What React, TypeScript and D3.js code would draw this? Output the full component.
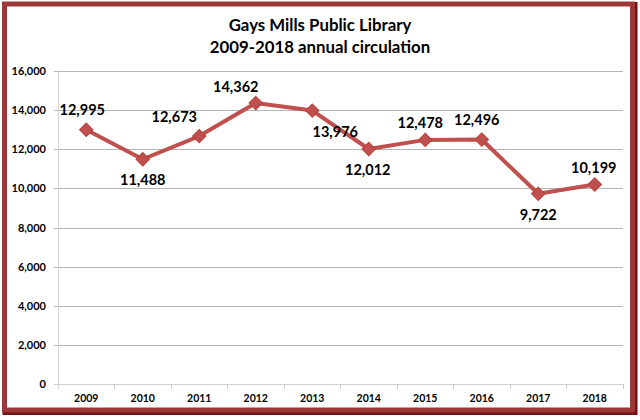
import React, { useRef, useEffect } from 'react';
import * as d3 from 'd3';

// annual circulation
const years = ['2009', '2010', '2011', '2012', '2013', '2014', '2015', '2016', '2017', '2018'];
const circulation = [12995, 11488, 12673, 14362, 13976, 12012, 12478, 12496, 9722, 10199];
const yTicks = [0, 2000, 4000, 6000, 8000, 10000, 12000, 14000, 16000];
const titleLines = ['Gays Mills Public Library', '2009-2018 annual circulation'];

// where each data label sits relative to its marker (dx, dy of the text centre)
const labelOffsets: [number, number][] = [
  [-4, -20], [0, 21], [-25, -19], [-20, -16], [23, 21],
  [-1, 21], [-5, -17], [-5, -20], [0, 21], [-1, -17],
];

const W = 640;
const H = 420;
const RED = '#c0504d';
const FONT = 'Lato, "Open Sans", sans-serif';

const App: React.FC = () => {
  const ref = useRef<SVGSVGElement | null>(null);

  useEffect(() => {
    if (!ref.current) return;
    const svg = d3.select(ref.current);
    svg.selectAll('*').remove();

    const margin = { top: 71, right: 17, bottom: 36, left: 58 };
    const x = d3
      .scaleBand<string>()
      .domain(years)
      .range([margin.left, W - margin.right]);
    const y = d3
      .scaleLinear()
      .domain([0, 16000])
      .range([H - margin.bottom, margin.top]);

    // page + frame
    svg.append('rect').attr('width', W).attr('height', H).attr('fill', '#ffffff');
    svg
      .append('rect')
      .attr('x', 5.5)
      .attr('y', 5)
      .attr('width', 629)
      .attr('height', 407)
      .attr('fill', 'none')
      .attr('stroke', '#6e1414')
      .attr('stroke-width', 6);
    svg
      .append('rect')
      .attr('x', 4.5)
      .attr('y', 4)
      .attr('width', 628)
      .attr('height', 406)
      .attr('fill', '#ffffff')
      .attr('stroke', '#9d3838')
      .attr('stroke-width', 5);

    // title
    svg
      .append('text')
      .attr('x', 320)
      .attr('text-anchor', 'middle')
      .attr('font-family', FONT)
      .attr('font-weight', 'bold')
      .attr('font-size', 16.8)
      .attr('fill', '#000')
      .selectAll('tspan')
      .data(titleLines)
      .join('tspan')
      .attr('x', 320)
      .attr('y', (_, i) => 31 + i * 22)
      .text((d) => d);

    // y axis with gridlines
    const yAxis = svg
      .append('g')
      .attr('transform', `translate(${margin.left},0)`)
      .call(
        d3
          .axisLeft(y)
          .tickValues(yTicks)
          .tickSize(0)
          .tickPadding(12)
          .tickFormat((d) => d3.format(',')(d as number))
      );
    yAxis.select('.domain').remove();
    yAxis
      .selectAll('.tick text')
      .attr('font-family', FONT)
      .attr('font-size', 11)
      .attr('font-weight', 'bold')
      .attr('fill', '#000');
    yAxis
      .selectAll('.tick')
      .append('line')
      .attr('x1', -4)
      .attr('x2', W - margin.left - margin.right)
      .attr('stroke', (d) => ((d as number) === 0 ? '#d0d0d0' : '#b5b5b5'))
      .attr('stroke-width', 1)
      .attr('shape-rendering', 'crispEdges');
    svg
      .append('line')
      .attr('x1', margin.left)
      .attr('x2', margin.left)
      .attr('y1', margin.top)
      .attr('y2', H - margin.bottom + 5)
      .attr('stroke', '#d6d6d6')
      .attr('shape-rendering', 'crispEdges');

    // x axis
    const xAxis = svg
      .append('g')
      .attr('transform', `translate(0,${H - margin.bottom})`)
      .call(d3.axisBottom(x).tickSize(0).tickPadding(11));
    xAxis.select('.domain').remove();
    xAxis
      .selectAll('.tick text')
      .attr('font-family', FONT)
      .attr('font-size', 10.5)
      .attr('font-weight', 'bold')
      .attr('fill', '#000');
    xAxis
      .selectAll('line.sep')
      .data(years)
      .join('line')
      .attr('class', 'sep')
      .attr('x1', (d) => (x(d) as number) + x.bandwidth())
      .attr('x2', (d) => (x(d) as number) + x.bandwidth())
      .attr('y1', 0)
      .attr('y2', 5)
      .attr('stroke', '#c8c8c8')
      .attr('shape-rendering', 'crispEdges');

    const cx = (i: number) => (x(years[i]) as number) + x.bandwidth() / 2;

    // line
    const line = d3
      .line<number>()
      .x((_, i) => cx(i))
      .y((d) => y(d));
    svg
      .append('path')
      .datum(circulation)
      .attr('fill', 'none')
      .attr('stroke', RED)
      .attr('stroke-width', 4)
      .attr('stroke-linejoin', 'round')
      .attr('d', line);

    // diamond markers
    svg
      .append('g')
      .selectAll('path')
      .data(circulation)
      .join('path')
      .attr('d', d3.symbol(d3.symbolSquare, 90)())
      .attr('transform', (d, i) => `translate(${cx(i)},${y(d)}) rotate(45)`)
      .attr('fill', RED)
      .attr('stroke', '#b8413e')
      .attr('stroke-width', 1);

    // data labels
    svg
      .append('g')
      .selectAll('text')
      .data(circulation)
      .join('text')
      .attr('x', (_, i) => cx(i) + labelOffsets[i][0])
      .attr('y', (d, i) => y(d) + labelOffsets[i][1])
      .attr('dy', '0.35em')
      .attr('text-anchor', 'middle')
      .attr('font-family', FONT)
      .attr('font-size', 14.5)
      .attr('font-weight', 'bold')
      .attr('fill', '#000')
      .text((d) => d3.format(',')(d));
  }, []);

  return (
    <svg
      ref={ref}
      width={W}
      height={H}
      style={{ position: 'absolute', left: 0, top: 0, display: 'block' }}
    />
  );
};

export default App;
